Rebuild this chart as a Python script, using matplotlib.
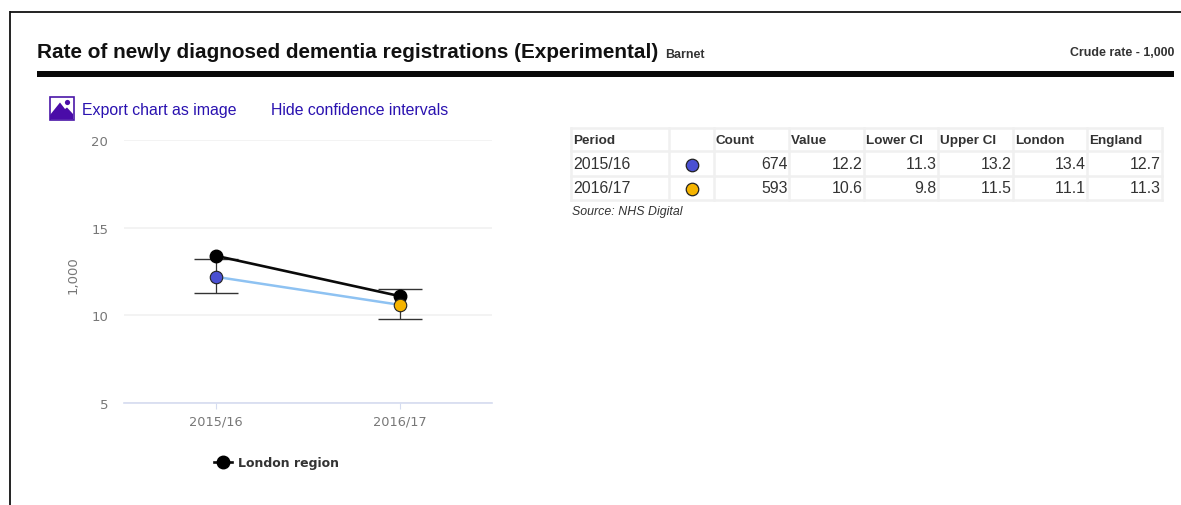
#!/usr/bin/env python3
"""Rate of newly diagnosed dementia registrations - Barnet"""

import matplotlib
matplotlib.use('Agg')
import matplotlib.pyplot as plt
from matplotlib.patches import Polygon, Rectangle, Circle

W, H = 1181, 506

periods = ['2015/16', '2016/17']
counts = [674, 593]
values = [12.2, 10.6]
lower_ci = [11.3, 9.8]
upper_ci = [13.2, 11.5]
london = [13.4, 11.1]
england = [12.7, 11.3]
point_colors = ['#4a50d2', '#f5b400']
y_ticks = [5, 10, 15, 20]
table_headers = ['Period', '', 'Count', 'Value', 'Lower CI', 'Upper CI', 'London', 'England']

ARIAL = 'Liberation Sans'
VERDANA = 'DejaVu Sans'
LINK = '#2a12b0'

# the screenshot has no tight "11" pairs
plt.rcParams['text.kerning_factor'] = 10

fig = plt.figure(figsize=(W / 100, H / 100), dpi=100, facecolor='white')

# page furniture, in pixel coordinates
bg = fig.add_axes([0, 0, 1, 1])
bg.set_xlim(0, W)
bg.set_ylim(H, 0)
bg.axis('off')

bg.plot([10, W], [12.5, 12.5], color='#111111', lw=1.3, solid_capstyle='butt')
bg.plot([10, 10], [12, H], color='#111111', lw=1.3, solid_capstyle='butt')
bg.add_patch(Rectangle((37, 72), 1137, 6, color='#080808', lw=0))

bg.text(37, 52.5, 'Rate of newly diagnosed dementia registrations (Experimental)',
        family=ARIAL, fontweight='bold', fontsize=14.92, color='#111111', va='center')
bg.text(665, 54.5, 'Barnet', family=ARIAL, fontweight='bold', fontsize=8.9,
        color='#333333', va='center')
bg.text(1174, 53, 'Crude rate - 1,000', family=ARIAL, fontweight='bold', fontsize=8.9,
        color='#333333', va='center', ha='right')

# export icon
bg.add_patch(Rectangle((49.5, 98), 24, 23, facecolor='white', edgecolor='#4a16a8', lw=1.2))
bg.add_patch(Polygon([(50, 120.5), (50, 116), (60, 103.5), (65, 110), (67, 108.5), (73, 115), (73, 120.5)],
                     closed=True, color='#4a0ca8', lw=0))
bg.add_patch(Circle((67.5, 103.5), 2.6, color='#4a0ca8', lw=0))
bg.text(82, 110, 'Export chart as image', family=ARIAL, fontsize=11.4, color=LINK, va='center')
bg.text(271, 110, 'Hide confidence intervals', family=ARIAL, fontsize=11.4, color=LINK, va='center')

# table
col_edges = [571, 669, 714, 789, 864, 938, 1013, 1087, 1162]
row_edges = [129, 152, 177, 201]
for x in col_edges:
    bg.plot([x, x], [row_edges[0], row_edges[-1]], color='#f0f0f0', lw=1.8, zorder=1)
for y in row_edges:
    bg.plot([col_edges[0], col_edges[-1]], [y, y], color='#f0f0f0', lw=1.8, zorder=1)

for i, label in enumerate(table_headers):
    bg.text(col_edges[i] + 2, 141, label, family=ARIAL, fontweight='bold', fontsize=9.7,
            color='#333333', va='center')

for r, period in enumerate(periods):
    yc = (row_edges[r + 1] + row_edges[r + 2]) / 2
    bg.text(col_edges[0] + 2, yc - 0.5, period, family=ARIAL, fontsize=11.4, color='#333333', va='center')
    bg.plot([691.5], [yc + 1], 'o', ms=9, mfc=point_colors[r], mec='#222222', mew=0.9)
    cells = [str(counts[r]), f'{values[r]:.1f}', f'{lower_ci[r]:.1f}', f'{upper_ci[r]:.1f}',
             f'{london[r]:.1f}', f'{england[r]:.1f}']
    for c, txt in enumerate(cells):
        bg.text(col_edges[c + 3] - 1.5, yc - 0.5, txt, family=ARIAL, fontsize=11.4,
                color='#333333', va='center', ha='right')

bg.text(572, 212, 'Source: NHS Digital', family=ARIAL, style='italic', fontsize=8.9,
        color='#333333', va='center')

# chart
ax = fig.add_axes([123.5 / W, 1 - 404 / H, 368 / W, 263 / H])
ax.patch.set_alpha(0)
ax.set_xlim(-0.5, 1.5)
ax.set_ylim(5, 20)
xs = list(range(len(periods)))

for s in ['top', 'left', 'right']:
    ax.spines[s].set_visible(False)
ax.spines['bottom'].set_color('#d5dcf0')
ax.spines['bottom'].set_linewidth(1.2)

ax.set_yticks(y_ticks)
ax.set_xticks(xs)
ax.set_xticklabels(periods)
ax.grid(axis='y', color='#f1f1f1', lw=1.2)
ax.set_axisbelow(True)
ax.tick_params(axis='y', length=0, pad=11, labelsize=9.5, labelcolor='#777777')
ax.tick_params(axis='x', length=4, color='#d5dcf0', pad=4.5, labelsize=9.3, labelcolor='#777777')
for lab in ax.get_xticklabels() + ax.get_yticklabels():
    lab.set_family(VERDANA)
ax.set_ylabel('1,000', family=VERDANA, fontsize=9.5, color='#777777')
ax.yaxis.set_label_coords(-0.12, 0.49)

err_low = [v - l for v, l in zip(values, lower_ci)]
err_up = [u - v for u, v in zip(upper_ci, values)]
ax.errorbar(xs, values, yerr=[err_low, err_up], fmt='none', ecolor='#333333',
            elinewidth=0.9, capsize=16, capthick=1.0, zorder=2)

ax.plot(xs, values, color='#8ec2f2', lw=1.8, zorder=3)
ax.plot(xs, london, color='#0a0a0a', lw=1.9, marker='o', ms=9, mfc='black', mec='black', zorder=4)
for x, v, c in zip(xs, values, point_colors):
    ax.plot([x], [v], 'o', ms=9, mfc=c, mec='#222222', mew=0.8, zorder=5)

# legend
bg.plot([214, 232], [462.5, 462.5], color='#0a0a0a', lw=1.9, zorder=3)
bg.plot([223], [462.5], 'o', ms=9, color='black', zorder=3)
bg.text(238, 464, 'London region', family=VERDANA, fontweight='bold', fontsize=9,
        color='#333333', va='center')

fig.savefig('out.png', dpi=100, facecolor='white')
